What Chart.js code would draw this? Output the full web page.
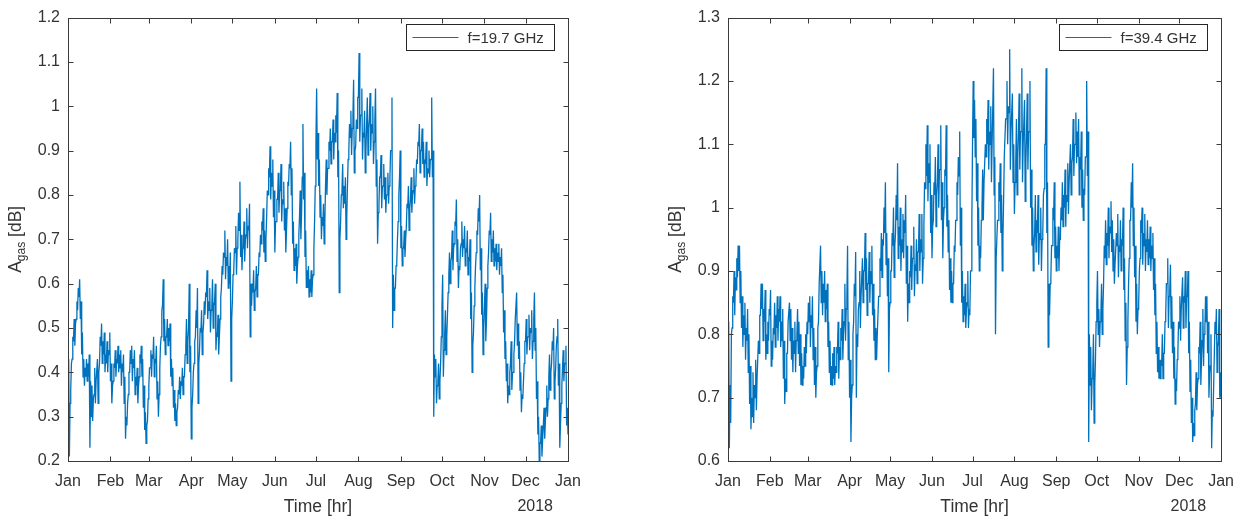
<!DOCTYPE html>
<html>
<head>
<meta charset="utf-8">
<title>Gaseous attenuation, 2017</title>
<script src="https://cdn.jsdelivr.net/npm/chart.js@4.4.1/dist/chart.umd.min.js"></script>
<style>
  html, body { margin: 0; padding: 0; background: #fff; }
  #wrap { position: relative; width: 1245px; height: 520px; }
  canvas { position: absolute; top: 0; }
  #c19 { left: 0; }
  #c39 { left: 622px; }
</style>
</head>
<body>
<div id="wrap">
  <canvas id="c19" width="622" height="520"></canvas>
  <canvas id="c39" width="623" height="520"></canvas>
</div>
<script>
// month boundaries (day of year) and their labels
const monthDays = [0, 31, 59, 90, 120, 151, 181, 212, 243, 273, 304, 334, 365];
const monthLabels = ["Jan", "Feb", "Mar", "Apr", "May", "Jun", "Jul", "Aug", "Sep", "Oct", "Nov", "Dec", "Jan"];
const yearLabel = "2018";

// daily low / high of gaseous attenuation [dB] at 19.7 GHz, day 0..365
const lo19 = [
  0.40, 0.21, 0.36, 0.43, 0.47, 0.46, 0.52, 0.54, 0.57, 0.52,
  0.44, 0.39, 0.37, 0.39, 0.38, 0.39, 0.23, 0.30, 0.29, 0.35,
  0.33, 0.38, 0.33, 0.42, 0.46, 0.42, 0.44, 0.40, 0.42, 0.40,
  0.44, 0.38, 0.33, 0.38, 0.41, 0.39, 0.42, 0.40, 0.41, 0.37,
  0.40, 0.33, 0.25, 0.28, 0.35, 0.40, 0.42, 0.38, 0.41, 0.35,
  0.37, 0.33, 0.39, 0.42, 0.39, 0.32, 0.27, 0.24, 0.29, 0.37,
  0.41, 0.39, 0.43, 0.39, 0.42, 0.34, 0.30, 0.41, 0.48, 0.55,
  0.47, 0.44, 0.48, 0.46, 0.47, 0.39, 0.37, 0.32, 0.29, 0.28,
  0.32, 0.35, 0.34, 0.37, 0.35, 0.39, 0.46, 0.42, 0.50, 0.40,
  0.25, 0.35, 0.42, 0.48, 0.50, 0.33, 0.45, 0.49, 0.44, 0.51,
  0.53, 0.57, 0.52, 0.54, 0.49, 0.55, 0.50, 0.56, 0.45, 0.48,
  0.44, 0.52, 0.59, 0.62, 0.66, 0.61, 0.64, 0.59, 0.60, 0.38,
  0.56, 0.63, 0.67, 0.62, 0.70, 0.72, 0.66, 0.63, 0.68, 0.65,
  0.71, 0.68, 0.72, 0.48, 0.55, 0.58, 0.54, 0.59, 0.57, 0.62,
  0.66, 0.69, 0.72, 0.67, 0.65, 0.75, 0.80, 0.84, 0.79, 0.82,
  0.75, 0.67, 0.74, 0.79, 0.76, 0.81, 0.74, 0.78, 0.72, 0.67,
  0.77, 0.82, 0.86, 0.80, 0.69, 0.63, 0.64, 0.60, 0.66, 0.75,
  0.70, 0.84, 0.79, 0.66, 0.59, 0.59, 0.57, 0.58, 0.57, 0.62,
  0.74, 0.92, 0.88, 0.82, 0.75, 0.70, 0.73, 0.69, 0.82, 0.80,
  0.86, 0.90, 0.87, 0.92, 0.88, 0.92, 0.94, 0.84, 0.58, 0.74,
  0.81, 0.77, 0.78, 0.70, 0.82, 0.90, 0.93, 0.89, 0.98, 0.85,
  0.91, 0.95, 1.02, 0.92, 0.98, 0.88, 0.93, 0.85, 0.96, 0.89,
  0.97, 0.90, 0.94, 0.87, 0.97, 0.82, 0.69, 0.78, 0.84, 0.77,
  0.82, 0.79, 0.76, 0.80, 0.78, 0.84, 0.90, 0.50, 0.54, 0.59,
  0.65, 0.74, 0.84, 0.68, 0.64, 0.68, 0.66, 0.73, 0.77, 0.72,
  0.79, 0.76, 0.81, 0.78, 0.83, 0.87, 0.91, 0.85, 0.90, 0.87,
  0.84, 0.87, 0.82, 0.85, 0.84, 0.88, 0.84, 0.30, 0.39, 0.33,
  0.38, 0.34, 0.42, 0.55, 0.39, 0.49, 0.44, 0.53, 0.62, 0.60,
  0.66, 0.63, 0.69, 0.73, 0.65, 0.59, 0.63, 0.69, 0.66, 0.68,
  0.64, 0.67, 0.62, 0.65, 0.52, 0.40, 0.49, 0.59, 0.67, 0.71,
  0.74, 0.63, 0.53, 0.44, 0.55, 0.47, 0.59, 0.67, 0.71, 0.65,
  0.67, 0.64, 0.65, 0.63, 0.65, 0.62, 0.64, 0.58, 0.49, 0.43,
  0.38, 0.33, 0.35, 0.42, 0.36, 0.40, 0.47, 0.52, 0.46, 0.43,
  0.36, 0.31, 0.34, 0.42, 0.47, 0.44, 0.48, 0.45, 0.49, 0.43,
  0.52, 0.45, 0.34, 0.26, 0.20, 0.24, 0.21, 0.28, 0.25, 0.32,
  0.30, 0.39, 0.36, 0.42, 0.45, 0.34, 0.41, 0.48, 0.37, 0.23,
  0.33, 0.41, 0.38, 0.42, 0.28, 0.26
];
const hi19 = [
  0.43, 0.33, 0.42, 0.48, 0.52, 0.51, 0.56, 0.59, 0.61, 0.56,
  0.49, 0.43, 0.41, 0.43, 0.42, 0.44, 0.38, 0.37, 0.34, 0.41,
  0.38, 0.43, 0.40, 0.48, 0.51, 0.47, 0.49, 0.44, 0.47, 0.45,
  0.49, 0.42, 0.37, 0.42, 0.45, 0.43, 0.46, 0.44, 0.45, 0.42,
  0.44, 0.39, 0.30, 0.33, 0.40, 0.45, 0.46, 0.43, 0.45, 0.39,
  0.41, 0.37, 0.44, 0.46, 0.43, 0.37, 0.31, 0.28, 0.34, 0.41,
  0.45, 0.44, 0.48, 0.43, 0.46, 0.38, 0.35, 0.46, 0.54, 0.61,
  0.52, 0.48, 0.52, 0.50, 0.51, 0.43, 0.41, 0.36, 0.33, 0.31,
  0.36, 0.39, 0.38, 0.41, 0.39, 0.44, 0.52, 0.47, 0.60, 0.46,
  0.32, 0.40, 0.47, 0.54, 0.59, 0.42, 0.50, 0.54, 0.49, 0.56,
  0.58, 0.63, 0.56, 0.59, 0.54, 0.61, 0.55, 0.60, 0.49, 0.53,
  0.48, 0.57, 0.64, 0.67, 0.72, 0.66, 0.70, 0.64, 0.67, 0.52,
  0.62, 0.68, 0.73, 0.68, 0.76, 0.83, 0.71, 0.68, 0.74, 0.70,
  0.77, 0.73, 0.78, 0.60, 0.60, 0.63, 0.58, 0.64, 0.62, 0.67,
  0.71, 0.74, 0.77, 0.72, 0.70, 0.81, 0.86, 0.91, 0.85, 0.88,
  0.81, 0.74, 0.79, 0.85, 0.81, 0.87, 0.79, 0.83, 0.77, 0.72,
  0.83, 0.87, 0.92, 0.86, 0.74, 0.68, 0.69, 0.64, 0.71, 0.81,
  0.76, 0.96, 0.85, 0.72, 0.63, 0.64, 0.61, 0.63, 0.61, 0.68,
  0.82, 1.04, 0.94, 0.88, 0.80, 0.75, 0.78, 0.74, 0.88, 0.86,
  0.92, 0.95, 0.92, 0.97, 0.94, 0.98, 1.03, 0.90, 0.70, 0.80,
  0.87, 0.82, 0.84, 0.75, 0.88, 0.96, 0.99, 0.95, 1.06, 0.90,
  0.97, 1.02, 1.12, 0.98, 1.04, 0.94, 0.99, 0.90, 1.02, 0.95,
  1.03, 0.96, 1.00, 0.92, 1.04, 0.88, 0.76, 0.84, 0.89, 0.82,
  0.87, 0.84, 0.80, 0.85, 0.82, 0.90, 1.02, 0.62, 0.59, 0.64,
  0.70, 0.80, 0.90, 0.73, 0.68, 0.72, 0.70, 0.78, 0.82, 0.77,
  0.84, 0.80, 0.86, 0.82, 0.88, 0.92, 0.96, 0.90, 0.95, 0.92,
  0.88, 0.92, 0.86, 0.90, 0.88, 1.02, 0.90, 0.44, 0.43, 0.37,
  0.42, 0.38, 0.48, 0.62, 0.45, 0.54, 0.48, 0.58, 0.67, 0.65,
  0.72, 0.68, 0.74, 0.79, 0.70, 0.64, 0.68, 0.74, 0.70, 0.73,
  0.68, 0.72, 0.66, 0.70, 0.58, 0.46, 0.55, 0.64, 0.72, 0.77,
  0.80, 0.68, 0.58, 0.50, 0.60, 0.52, 0.64, 0.72, 0.76, 0.70,
  0.72, 0.68, 0.69, 0.67, 0.69, 0.66, 0.68, 0.62, 0.54, 0.47,
  0.42, 0.37, 0.40, 0.47, 0.40, 0.44, 0.52, 0.58, 0.51, 0.47,
  0.40, 0.35, 0.38, 0.47, 0.52, 0.48, 0.53, 0.50, 0.54, 0.47,
  0.58, 0.50, 0.38, 0.30, 0.24, 0.28, 0.25, 0.32, 0.29, 0.37,
  0.34, 0.44, 0.40, 0.47, 0.50, 0.38, 0.46, 0.52, 0.42, 0.28,
  0.37, 0.45, 0.42, 0.46, 0.32, 0.28
];

// daily low / high at 39.4 GHz, day 0..365
const lo39 = [
  0.78, 0.62, 0.66, 0.81, 0.85, 0.83, 0.87, 0.89, 0.90, 0.85,
  0.81, 0.78, 0.80, 0.76, 0.79, 0.74, 0.69, 0.65, 0.67, 0.66,
  0.70, 0.68, 0.73, 0.77, 0.83, 0.84, 0.79, 0.82, 0.76, 0.77,
  0.79, 0.83, 0.75, 0.76, 0.80, 0.78, 0.81, 0.79, 0.82, 0.78,
  0.79, 0.73, 0.69, 0.71, 0.77, 0.82, 0.79, 0.76, 0.74, 0.77,
  0.74, 0.80, 0.77, 0.75, 0.72, 0.72, 0.73, 0.75, 0.77, 0.80,
  0.82, 0.78, 0.81, 0.76, 0.72, 0.70, 0.75, 0.82, 0.88, 0.85,
  0.83, 0.85, 0.82, 0.84, 0.78, 0.74, 0.72, 0.72, 0.73, 0.72,
  0.74, 0.77, 0.73, 0.76, 0.79, 0.76, 0.82, 0.79, 0.86, 0.76,
  0.70, 0.63, 0.72, 0.82, 0.86, 0.70, 0.78, 0.85, 0.81, 0.86,
  0.85, 0.90, 0.87, 0.83, 0.88, 0.85, 0.88, 0.83, 0.79, 0.76,
  0.76, 0.80, 0.86, 0.90, 0.89, 0.94, 0.96, 0.91, 0.86, 0.74,
  0.85, 0.90, 0.94, 0.89, 0.96, 0.98, 0.92, 0.94, 0.90, 0.93,
  0.92, 0.96, 0.88, 0.82, 0.85, 0.89, 0.87, 0.92, 0.86, 0.90,
  0.88, 0.93, 0.90, 0.93, 0.88, 0.97, 1.03, 1.05, 1.01, 1.04,
  0.96, 0.92, 0.98, 1.02, 0.97, 1.04, 1.00, 1.06, 0.98, 0.92,
  1.00, 1.05, 0.97, 0.93, 0.87, 0.85, 0.85, 0.88, 0.93, 0.98,
  1.02, 1.05, 0.94, 0.85, 0.82, 0.83, 0.81, 0.85, 0.81, 0.83,
  0.90, 1.10, 1.11, 1.08, 1.01, 0.94, 0.90, 0.92, 1.00, 0.98,
  1.04, 1.08, 1.10, 1.06, 1.10, 1.04, 1.10, 1.02, 0.80, 0.92,
  0.98, 1.01, 0.96, 0.90, 1.01, 1.08, 1.14, 1.10, 1.15, 1.06,
  1.12, 1.04, 0.99, 1.07, 1.02, 1.12, 1.06, 1.12, 1.04, 1.10,
  1.01, 1.12, 1.06, 1.12, 1.00, 0.94, 0.90, 0.96, 0.93, 0.96,
  0.91, 0.95, 0.90, 0.96, 1.03, 1.10, 0.96, 0.78, 0.83, 0.89,
  0.94, 0.98, 0.92, 0.90, 0.92, 0.90, 0.95, 0.98, 0.97, 1.00,
  0.97, 1.01, 0.99, 1.04, 1.02, 1.08, 1.05, 1.10, 1.07, 1.08,
  1.02, 1.06, 1.00, 0.98, 1.02, 1.08, 1.05, 0.63, 0.72, 0.68,
  0.74, 0.66, 0.76, 0.85, 0.80, 0.78, 0.83, 0.80, 0.88, 0.92,
  0.91, 0.94, 0.92, 0.96, 0.93, 0.90, 0.88, 0.91, 0.94, 0.89,
  0.93, 0.90, 0.94, 0.87, 0.79, 0.72, 0.82, 0.92, 0.98, 1.00,
  0.94, 0.89, 0.82, 0.80, 0.85, 0.92, 0.96, 0.91, 0.94, 0.90,
  0.93, 0.91, 0.92, 0.90, 0.92, 0.87, 0.83, 0.77, 0.74, 0.73,
  0.73, 0.75, 0.73, 0.77, 0.83, 0.88, 0.81, 0.87, 0.81, 0.77,
  0.73, 0.69, 0.71, 0.77, 0.81, 0.79, 0.84, 0.81, 0.85, 0.81,
  0.86, 0.77, 0.71, 0.66, 0.63, 0.64, 0.69, 0.68, 0.73, 0.77,
  0.72, 0.79, 0.75, 0.81, 0.82, 0.77, 0.70, 0.75, 0.62, 0.67,
  0.77, 0.80, 0.74, 0.79, 0.70, 0.70
];
const hi39 = [
  0.82, 0.72, 0.80, 0.86, 0.90, 0.89, 0.92, 0.94, 0.94, 0.90,
  0.86, 0.83, 0.85, 0.81, 0.84, 0.80, 0.75, 0.70, 0.74, 0.72,
  0.76, 0.73, 0.79, 0.83, 0.88, 0.88, 0.84, 0.87, 0.80, 0.82,
  0.84, 0.87, 0.79, 0.81, 0.85, 0.83, 0.86, 0.84, 0.86, 0.82,
  0.84, 0.79, 0.73, 0.77, 0.82, 0.85, 0.84, 0.81, 0.79, 0.82,
  0.79, 0.84, 0.82, 0.80, 0.77, 0.75, 0.78, 0.80, 0.82, 0.85,
  0.86, 0.83, 0.86, 0.81, 0.78, 0.74, 0.81, 0.88, 0.94, 0.90,
  0.88, 0.90, 0.87, 0.88, 0.82, 0.79, 0.75, 0.77, 0.78, 0.75,
  0.78, 0.82, 0.78, 0.81, 0.84, 0.80, 0.88, 0.84, 0.94, 0.82,
  0.76, 0.70, 0.80, 0.88, 0.93, 0.80, 0.84, 0.90, 0.86, 0.92,
  0.90, 0.96, 0.92, 0.88, 0.93, 0.90, 0.94, 0.88, 0.84, 0.81,
  0.80, 0.86, 0.92, 0.96, 0.95, 1.00, 1.04, 0.96, 0.92, 0.84,
  0.90, 0.96, 1.00, 0.94, 1.02, 1.07, 0.97, 1.00, 0.95, 0.99,
  0.98, 1.02, 0.94, 0.88, 0.90, 0.94, 0.92, 0.97, 0.91, 0.95,
  0.93, 0.99, 0.95, 0.99, 0.92, 1.04, 1.10, 1.13, 1.07, 1.10,
  1.02, 0.97, 1.04, 1.08, 1.02, 1.10, 1.06, 1.13, 1.04, 0.98,
  1.06, 1.13, 1.02, 0.98, 0.92, 0.90, 0.88, 0.94, 0.98, 1.04,
  1.08, 1.12, 1.00, 0.90, 0.86, 0.88, 0.84, 0.90, 0.84, 0.90,
  0.98, 1.20, 1.17, 1.14, 1.07, 1.00, 0.94, 0.98, 1.06, 1.04,
  1.10, 1.14, 1.17, 1.12, 1.16, 1.10, 1.22, 1.08, 0.92, 0.98,
  1.04, 1.07, 1.02, 0.95, 1.08, 1.14, 1.20, 1.16, 1.25, 1.12,
  1.18, 1.10, 1.04, 1.14, 1.08, 1.18, 1.12, 1.22, 1.10, 1.17,
  1.07, 1.18, 1.12, 1.20, 1.06, 1.00, 0.94, 1.02, 0.98, 1.02,
  0.96, 1.00, 0.95, 1.02, 1.10, 1.22, 1.04, 0.88, 0.88, 0.94,
  1.00, 1.04, 0.97, 0.94, 0.97, 0.95, 1.00, 1.04, 1.02, 1.06,
  1.02, 1.07, 1.04, 1.10, 1.07, 1.14, 1.10, 1.15, 1.12, 1.14,
  1.08, 1.12, 1.06, 1.03, 1.08, 1.20, 1.12, 0.80, 0.78, 0.73,
  0.80, 0.72, 0.82, 0.90, 0.84, 0.82, 0.88, 0.84, 0.94, 0.98,
  0.96, 1.00, 0.97, 1.01, 0.98, 0.95, 0.91, 0.96, 0.99, 0.94,
  0.98, 0.95, 1.00, 0.92, 0.85, 0.78, 0.88, 0.98, 1.04, 1.07,
  1.00, 0.94, 0.88, 0.84, 0.90, 0.98, 1.00, 0.96, 0.99, 0.95,
  0.98, 0.95, 0.97, 0.94, 0.96, 0.92, 0.88, 0.82, 0.78, 0.76,
  0.76, 0.80, 0.77, 0.82, 0.88, 0.92, 0.86, 0.91, 0.86, 0.82,
  0.78, 0.73, 0.76, 0.82, 0.86, 0.84, 0.89, 0.86, 0.90, 0.86,
  0.90, 0.82, 0.76, 0.70, 0.66, 0.68, 0.74, 0.72, 0.78, 0.82,
  0.76, 0.84, 0.80, 0.86, 0.86, 0.82, 0.74, 0.80, 0.68, 0.72,
  0.82, 0.84, 0.78, 0.84, 0.74, 0.72
];

const LINE = "rgb(0,114,189)";
const INK = "#333333";
const FONT = "'Liberation Sans', Arial, sans-serif";
const TICK = 5;

Chart.defaults.font.family = FONT;
Chart.defaults.color = INK;

// each day contributes its low then its high, half a day apart
function dailyPoints(lo, hi) {
  const pts = [];
  lo.forEach((v, i) => {
    pts.push({ x: i, y: v });
    if (i < lo.length - 1) pts.push({ x: i + 0.5, y: hi[i] });
  });
  return pts;
}

// box, inward ticks on all four sides, legend and axis titles
const matlabAxes = {
  id: "matlabAxes",
  afterDraw(chart) {
    const { ctx, chartArea: a, scales: { x, y } } = chart;
    const L = Math.round(a.left) + 0.5, R = Math.round(a.right) + 0.5;
    const T = Math.round(a.top) + 0.5, B = Math.round(a.bottom) + 0.5;
    ctx.save();
    ctx.strokeStyle = "#3a3a3a";
    ctx.lineWidth = 1;
    ctx.beginPath();
    x.ticks.forEach(t => {
      const px = Math.round(x.getPixelForValue(t.value)) + 0.5;
      ctx.moveTo(px, B); ctx.lineTo(px, B - TICK);
      ctx.moveTo(px, T); ctx.lineTo(px, T + TICK);
    });
    y.ticks.forEach(t => {
      const py = Math.round(y.getPixelForValue(t.value)) + 0.5;
      ctx.moveTo(L, py); ctx.lineTo(L + TICK, py);
      ctx.moveTo(R, py); ctx.lineTo(R - TICK, py);
    });
    ctx.stroke();
    ctx.strokeRect(L, T, R - L, B - T);

    // legend
    const ds = chart.data.datasets[0];
    const lw = 148, lh = 26;
    const lx = Math.round(a.right - 162) + 0.5, ly = 24.5;
    ctx.fillStyle = "#fff";
    ctx.fillRect(lx, ly, lw, lh);
    ctx.strokeStyle = "#262626";
    ctx.lineWidth = 1;
    ctx.strokeRect(lx, ly, lw, lh);
    ctx.strokeStyle = ds.borderColor;
    ctx.beginPath();
    ctx.moveTo(lx + 6, ly + lh / 2);
    ctx.lineTo(lx + 52, ly + lh / 2);
    ctx.stroke();
    ctx.fillStyle = INK;
    ctx.font = "15px " + FONT;
    ctx.textBaseline = "middle";
    ctx.textAlign = "left";
    ctx.fillText(ds.label, lx + 61, ly + lh / 2 + 1);

    // x title and year
    ctx.font = "17.5px " + FONT;
    ctx.textAlign = "center";
    ctx.fillText("Time [hr]", (a.left + a.right) / 2, 507);
    ctx.font = "16px " + FONT;
    ctx.textAlign = "right";
    ctx.fillText(yearLabel, a.right - 15, 507);

    // y title with subscript
    const big = "17.5px " + FONT, small = "12px " + FONT;
    ctx.font = big;
    const wA = ctx.measureText("A").width;
    const wU = ctx.measureText(" [dB]").width;
    ctx.font = small;
    const wG = ctx.measureText("gas").width;
    const total = wA + wG + wU;
    ctx.translate(a.left - 47, (a.top + a.bottom) / 2);
    ctx.rotate(-Math.PI / 2);
    ctx.textAlign = "left";
    ctx.textBaseline = "alphabetic";
    let cx = -total / 2;
    ctx.font = big;
    ctx.fillText("A", cx, 0);
    cx += wA;
    ctx.font = small;
    ctx.fillText("gas", cx, 4);
    cx += wG;
    ctx.font = big;
    ctx.fillText(" [dB]", cx, 0);
    ctx.restore();
  }
};

function makeChart(id, lo, hi, label, yMin, yMax, yWidth, padRight) {
  return new Chart(document.getElementById(id), {
    type: "line",
    data: {
      datasets: [{
        label,
        data: dailyPoints(lo, hi),
        borderColor: LINE,
        borderWidth: 1.3,
        pointRadius: 0,
        tension: 0,
        fill: false
      }]
    },
    options: {
      responsive: false,
      animation: false,
      events: [],
      layout: { padding: { left: 0, right: padRight, top: 10, bottom: 0 } },
      plugins: { legend: { display: false }, tooltip: { enabled: false } },
      scales: {
        x: {
          type: "linear",
          min: 0,
          max: 365,
          grid: { display: false, drawTicks: false },
          border: { display: false },
          afterBuildTicks: s => { s.ticks = monthDays.map(v => ({ value: v })); },
          afterFit: s => { s.height = 59; },
          ticks: {
            autoSkip: false,
            maxRotation: 0,
            padding: 11,
            font: { size: 16 },
            color: INK,
            callback: (v, i) => monthLabels[i]
          }
        },
        y: {
          min: yMin,
          max: yMax,
          grid: { display: false, drawTicks: false },
          border: { display: false },
          afterFit: s => { s.width = yWidth; },
          ticks: {
            stepSize: 0.1,
            padding: 8,
            font: { size: 16 },
            color: INK,
            callback: v => String(Number(v.toFixed(1)))
          }
        }
      }
    },
    plugins: [matlabAxes]
  });
}

makeChart("c19", lo19, hi19, "f=19.7 GHz", 0.2, 1.2, 68, 54);
makeChart("c39", lo39, hi39, "f=39.4 GHz", 0.6, 1.3, 106, 16);
</script>
</body>
</html>
